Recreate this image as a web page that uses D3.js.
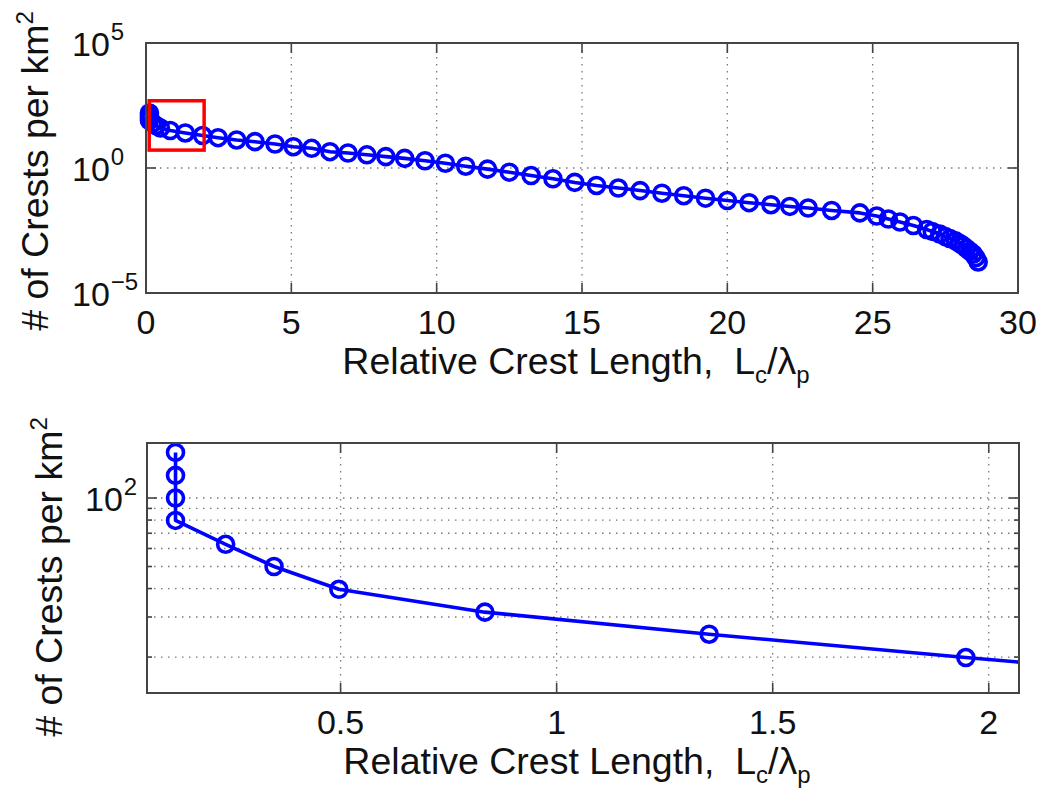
<!DOCTYPE html>
<html>
<head>
<meta charset="utf-8">
<script src="https://cdn.jsdelivr.net/npm/d3@7"></script>
<style>
  body { margin: 0; background: #fff; }
  svg text { font-family: "Liberation Sans", Arial, Helvetica, sans-serif; fill: #111; }
</style>
</head>
<body>
<svg id="fig" width="1042" height="801"></svg>
<script>
// Crest-length distribution: relative crest length Lc/λp vs. number of crests per km²
const crestLength = [0.118, 0.118, 0.118, 0.118, 0.234, 0.346, 0.496, 0.834, 1.353, 1.947,
  2.48, 3.12, 3.75, 4.44, 5.07, 5.70, 6.33, 6.95, 7.6, 8.25, 8.9, 9.6, 10.3, 11.0, 11.75,
  12.5, 13.25, 14.0, 14.75, 15.5, 16.25, 17.0, 17.75, 18.5, 19.25, 20.0, 20.75, 21.5, 22.15,
  22.78, 23.59, 24.56, 25.14, 25.54, 25.94, 26.4, 26.86, 27.05, 27.31, 27.5, 27.66, 27.85,
  28.0, 28.12, 28.23, 28.35, 28.46, 28.55, 28.63];
const crestDensity = [158.6, 125.7, 100, 79.7, 62.6, 50.0, 39.7, 31.5, 25.2, 19.9,
  16.3, 13.2, 11.3, 9.12, 7.11, 6.13, 4.49, 3.98, 3.37, 2.86, 2.42, 1.95, 1.55, 1.18, 0.90,
  0.68, 0.50, 0.37, 0.265, 0.20, 0.158, 0.125, 0.098, 0.078, 0.062, 0.050, 0.041, 0.034, 0.029,
  0.025, 0.020, 0.016, 0.012, 0.00912, 0.00692, 0.00501, 0.00347, 0.0029, 0.00229, 0.0018, 0.00151, 0.00122,
  0.000955, 0.00077, 0.000603, 0.00047, 0.000363, 0.00026, 0.000174];

// Axis ticks
const fullXTicks = [0, 5, 10, 15, 20, 25, 30];
const fullYTicks = [1e-5, 1, 1e5];
const fullYExponents = ["\u22125", "0", "5"];
const zoomXTicks = [0.5, 1, 1.5, 2];
const zoomYTicks = [100];
const zoomYExponents = ["2"];
const zoomYMinorTicks = [20, 30, 40, 50, 60, 70, 80, 90];

// Extent of the magnified region (highlighted in the upper panel)
const zoomBoxX = [0.11, 2.0];
const zoomBoxY = [5.2, 490];

const svg = d3.select("#fig");
const BLUE = "#0000ff";
const AXIS = "#444";
const GRID = "#7a7a7a";
const TICK_FS = 34, LABEL_FS = 37.5, EXP_FS = 24;

function drawPanel(cfg) {
  const { left, right, top, bottom } = cfg.box;
  const x = d3.scaleLinear().domain(cfg.xDomain).range([left, right]);
  const y = d3.scaleLog().domain(cfg.yDomain).range([bottom, top]);
  const g = svg.append("g");

  const clipId = cfg.id + "-clip";
  svg.append("defs").append("clipPath").attr("id", clipId)
    .append("rect").attr("x", left).attr("y", top)
    .attr("width", right - left).attr("height", bottom - top);

  // dotted grid
  const grid = g.append("g").attr("stroke", GRID).attr("stroke-width", 1.3)
    .attr("stroke-dasharray", "1.5 5.5").attr("fill", "none");
  cfg.xTicks.filter(v => x(v) > left + 1 && x(v) < right - 1).forEach(v => {
    grid.append("line").attr("x1", x(v)).attr("x2", x(v)).attr("y1", top).attr("y2", bottom);
  });
  cfg.yTicks.concat(cfg.yMinor || []).filter(v => y(v) > top + 1 && y(v) < bottom - 1).forEach(v => {
    grid.append("line").attr("x1", left).attr("x2", right).attr("y1", y(v)).attr("y2", y(v));
  });

  // data line and circle markers
  const pts = crestLength.map((v, i) => [v, crestDensity[i]]);
  const line = d3.line().x(d => x(d[0])).y(d => y(d[1]));
  const dataG = g.append("g");
  if (cfg.clip) dataG.attr("clip-path", `url(#${clipId})`);
  dataG.append("path").datum(pts).attr("d", line)
    .attr("fill", "none").attr("stroke", BLUE).attr("stroke-width", 3.6)
    .attr("stroke-linejoin", "round");
  const visible = pts.filter(d => d[0] >= cfg.xDomain[0] && d[0] <= cfg.xDomain[1] &&
    d[1] >= cfg.yDomain[0] && d[1] <= cfg.yDomain[1]);
  g.append("g").selectAll("circle").data(visible).join("circle")
    .attr("cx", d => x(d[0])).attr("cy", d => y(d[1])).attr("r", 8)
    .attr("fill", "none").attr("stroke", BLUE).attr("stroke-width", 3.6);

  if (cfg.zoomBox) {
    g.append("rect")
      .attr("x", x(zoomBoxX[0])).attr("y", y(zoomBoxY[1]))
      .attr("width", x(zoomBoxX[1]) - x(zoomBoxX[0]))
      .attr("height", y(zoomBoxY[0]) - y(zoomBoxY[1]))
      .attr("fill", "none").attr("stroke", "#ff0000").attr("stroke-width", 3.5);
  }

  // ticks (inside, on all four sides)
  const ticks = g.append("g").attr("stroke", AXIS).attr("stroke-width", 1.6);
  cfg.xTicks.forEach(v => {
    ticks.append("line").attr("x1", x(v)).attr("x2", x(v)).attr("y1", bottom).attr("y2", bottom - 10);
    ticks.append("line").attr("x1", x(v)).attr("x2", x(v)).attr("y1", top).attr("y2", top + 10);
  });
  cfg.yTicks.forEach(v => {
    ticks.append("line").attr("x1", left).attr("x2", left + 10).attr("y1", y(v)).attr("y2", y(v));
    ticks.append("line").attr("x1", right).attr("x2", right - 10).attr("y1", y(v)).attr("y2", y(v));
  });
  (cfg.yMinor || []).forEach(v => {
    ticks.append("line").attr("x1", left).attr("x2", left + 5).attr("y1", y(v)).attr("y2", y(v));
    ticks.append("line").attr("x1", right).attr("x2", right - 5).attr("y1", y(v)).attr("y2", y(v));
  });

  // box
  g.append("rect").attr("x", left).attr("y", top)
    .attr("width", right - left).attr("height", bottom - top)
    .attr("fill", "none").attr("stroke", AXIS).attr("stroke-width", 2);

  // x tick labels
  const fmt = d3.format("~g");
  cfg.xTicks.forEach(v => {
    g.append("text").attr("x", x(v)).attr("y", bottom + 41)
      .attr("text-anchor", "middle").attr("font-size", TICK_FS).text(fmt(v));
  });

  // y tick labels as powers of ten
  cfg.yTicks.forEach((v, i) => {
    const t = g.append("text").attr("x", cfg.yLabelX).attr("y", y(v) + 12.5)
      .attr("font-size", TICK_FS);
    t.append("tspan").text("10");
    t.append("tspan").attr("dy", -16).attr("dx", 1).attr("font-size", EXP_FS).text(cfg.yExponents[i]);
  });

  // x axis title
  const xt = g.append("text").attr("x", (left + right) / 2 - 6).attr("y", bottom + 81)
    .attr("text-anchor", "middle").attr("font-size", LABEL_FS).style("white-space", "pre");
  xt.append("tspan").text("Relative Crest Length,  L");
  xt.append("tspan").attr("dy", 9).attr("font-size", EXP_FS).text("c");
  xt.append("tspan").attr("dy", -9).text("/\u03bb");
  xt.append("tspan").attr("dy", 9).attr("font-size", EXP_FS).text("p");

  // y axis title
  const yt = g.append("text")
    .attr("transform", `translate(${cfg.yTitleX},${cfg.yTitleY}) rotate(-90)`)
    .attr("text-anchor", "middle").attr("font-size", LABEL_FS);
  yt.append("tspan").text("# of Crests per km");
  yt.append("tspan").attr("dy", -15).attr("font-size", EXP_FS).text("2");
}

drawPanel({
  id: "full",
  box: { left: 146, right: 1018, top: 43, bottom: 293 },
  xDomain: [0, 30], yDomain: [1e-5, 1e5],
  xTicks: fullXTicks, yTicks: fullYTicks, yExponents: fullYExponents,
  yLabelX: 72, yTitleX: 48, yTitleY: 171,
  zoomBox: true, clip: false
});

drawPanel({
  id: "zoom",
  box: { left: 147, right: 1019, top: 443, bottom: 693 },
  xDomain: [0.052, 2.07], yDomain: [13.9, 174.5],
  xTicks: zoomXTicks, yTicks: zoomYTicks, yExponents: zoomYExponents, yMinor: zoomYMinorTicks,
  yLabelX: 85, yTitleX: 62, yTitleY: 577,
  zoomBox: false, clip: true
});
</script>
</body>
</html>
